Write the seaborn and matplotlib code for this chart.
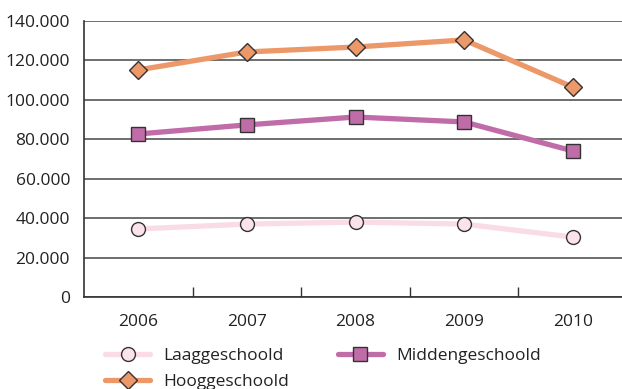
import matplotlib
matplotlib.use("Agg")
import matplotlib.pyplot as plt
import seaborn as sns
import pandas as pd
from matplotlib.ticker import FixedLocator, FuncFormatter

years = ["2006", "2007", "2008", "2009", "2010"]
laag = [34500, 37000, 38000, 37000, 30400]
midden = [82700, 87300, 91300, 88800, 74100]
hoog = [115200, 124300, 126800, 130400, 106500]

sns.set_theme(style="white")
plt.rcParams['font.family'] = ['Open Sans', 'DejaVu Sans']

fig = plt.figure(figsize=(6.22, 3.89), dpi=100)
ax = fig.add_axes([84/622, 1-297/389, 1-84/622, (297-21)/389])

series = [
    ("Laaggeschoold", laag, "#F9DCE7", "#FBE3EC", "o", 10),
    ("Hooggeschoold", hoog, "#EC9868", "#EC9868", "D", 9),
    ("Middengeschoold", midden, "#C06CA8", "#C06CA8", "s", 9.5),
]

for name, vals, lc, fc, mk, ms in series:
    df = pd.DataFrame({"x": range(len(years)), "y": vals})
    sns.lineplot(data=df, x="x", y="y", ax=ax, color=lc, linewidth=3.8,
                 marker=mk, markersize=ms, markerfacecolor=fc,
                 markeredgecolor="#333333", markeredgewidth=1.0, label=name)

handles, labels = ax.get_legend_handles_labels()
if ax.get_legend() is not None:
    ax.get_legend().remove()

ax.set_xlim(-0.5, (622-84)/108.6 - 0.5)
ax.set_ylim(0, 140000)
ax.set_yticks(range(0, 140001, 20000))
ax.yaxis.set_major_formatter(FuncFormatter(lambda v, p: "0" if v == 0 else f"{int(v):,}".replace(",", ".")))
ax.set_xticks(range(len(years)))
ax.set_xticklabels(years)
ax.xaxis.set_minor_locator(FixedLocator([0.5, 1.5, 2.5, 3.5]))
ax.tick_params(axis="x", which="major", length=0, pad=12, labelsize=12.5, labelcolor="#222222")
ax.tick_params(axis="x", which="minor", direction="in", length=7, width=1, color="#333333", bottom=True)
ax.tick_params(axis="y", length=0, pad=10, labelsize=12.5, labelcolor="#222222")
ax.set_xlabel("")
ax.set_ylabel("")

ax.grid(axis="y", color="#555555", linewidth=1.2)
ax.set_axisbelow(True)
for s in ["top", "right"]:
    ax.spines[s].set_visible(False)
for s in ["left", "bottom"]:
    ax.spines[s].set_color("#333333")
    ax.spines[s].set_linewidth(1.2)

order = [labels.index(n) for n in ["Laaggeschoold", "Hooggeschoold", "Middengeschoold"]]
leg = fig.legend([handles[i] for i in order], [labels[i] for i in order],
                 ncol=2, loc="upper left", bbox_to_anchor=(98/622, 1-341/389),
                 frameon=False, fontsize=12.5, handlelength=2.6, columnspacing=2.8,
                 labelspacing=0.55, handletextpad=0.75, borderaxespad=0)
for t in leg.get_texts():
    t.set_color("#222222")

fig.savefig("out.png", dpi=100)
